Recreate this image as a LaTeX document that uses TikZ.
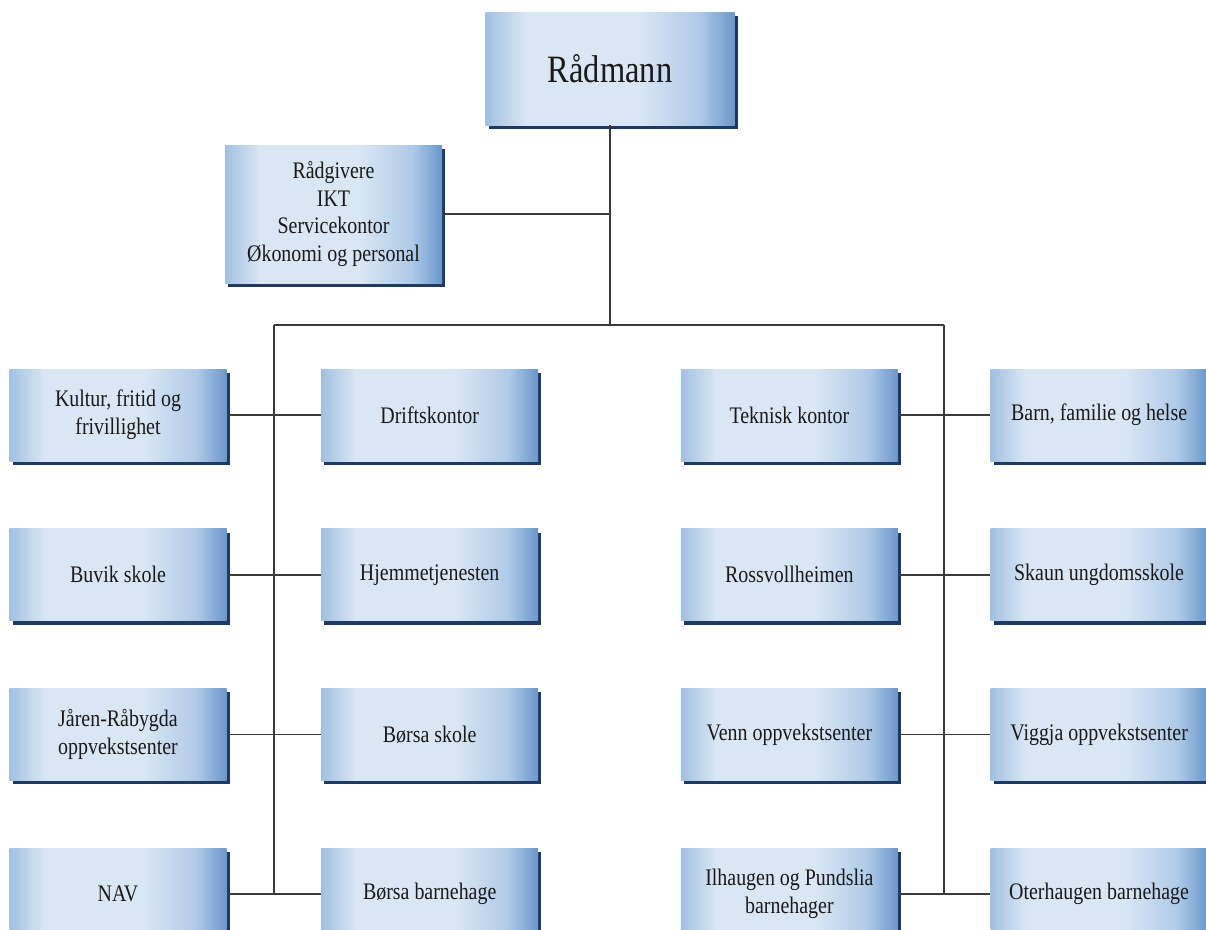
\documentclass[tikz,border=0pt]{standalone}
\usepackage{fontspec}
\setmainfont{Liberation Serif}[FakeStretch=0.84]
\usetikzlibrary{calc, positioning, shadows}
\definecolor{boxlight}{HTML}{D9E6F4}
\definecolor{boxedge}{HTML}{A2C0E2}
\definecolor{boxmid}{HTML}{AFCAE8}
\definecolor{boxdark}{HTML}{6A97CA}
\definecolor{boxshadow}{HTML}{1E3A60}
\definecolor{boxtext}{HTML}{1A1A1A}
\definecolor{linegray}{HTML}{3A3A3A}
\pgfdeclarehorizontalshading{boxshade}{100bp}{color(0bp)=(boxedge); color(25bp)=(boxedge);
    color(33bp)=(boxlight); color(56bp)=(boxlight); color(68bp)=(boxmid); color(75bp)=(boxdark);
    color(100bp)=(boxdark)}

\begin{document}
\begin{tikzpicture}[
    unit/.style={rectangle, minimum width=4.34cm, minimum height=1.84cm, align=center, inner sep=2pt,
        shading=boxshade, shading angle=0,
        text=boxtext, font=\fontsize{13.5}{15.8}\selectfont,
        drop shadow={shadow xshift=0.06cm, shadow yshift=-0.08cm, fill=boxshadow, opacity=1}},
    link/.style={draw=linegray, line width=0.9pt}
]
    \useasboundingbox (0,0) rectangle (24.12,-18.58);

    \node[unit, minimum width=4.98cm, minimum height=2.26cm, font=\fontsize{22}{26}\selectfont] (top) at (12.2,-1.37) {Rådmann};
    \node[unit, minimum height=2.76cm] (staff) at (6.67,-4.28) {Rådgivere\\IKT\\Servicekontor\\Økonomi og personal};

    \node[unit] (11) at (2.36,-8.30) {Kultur, fritid og\\frivillighet};
    \node[unit] (12) [right=1.88cm of 11] {Driftskontor};
    \node[unit] (13) [right=2.84cm of 12] {Teknisk kontor};
    \node[unit] (14) [right=1.84cm of 13] {Barn, familie og helse};

    \node[unit] (21) [below=1.34cm of 11] {Buvik skole};
    \node[unit] (22) [below=1.34cm of 12] {Hjemmetjenesten};
    \node[unit] (23) [below=1.34cm of 13] {Rossvollheimen};
    \node[unit] (24) [below=1.34cm of 14] {Skaun ungdomsskole};

    \node[unit] (31) [below=1.34cm of 21] {Jåren-Råbygda\\oppvekstsenter};
    \node[unit] (32) [below=1.34cm of 22] {Børsa skole};
    \node[unit] (33) [below=1.34cm of 23] {Venn oppvekstsenter};
    \node[unit] (34) [below=1.34cm of 24] {Viggja oppvekstsenter};

    \node[unit] (41) [below=1.34cm of 31] {NAV};
    \node[unit] (42) [below=1.34cm of 32] {Børsa barnehage};
    \node[unit] (43) [below=1.34cm of 33] {Ilhaugen og Pundslia\\barnehager};
    \node[unit] (44) [below=1.34cm of 34] {Oterhaugen barnehage};

    \coordinate (bus) at (0,-6.5);
    \coordinate (l1) at ($(11.east)!0.5!(12.west)$);
    \coordinate (l4) at ($(41.east)!0.5!(42.west)$);
    \coordinate (r1) at ($(13.east)!0.5!(14.west)$);
    \coordinate (r4) at ($(43.east)!0.5!(44.west)$);

    \draw[link] (top.south) -- (top.south |- bus);
    \draw[link] (staff.east) -- (top.south |- staff.east);
    \draw[link] (l1 |- bus) -- (r1 |- bus);
    \draw[link] (l1 |- bus) -- (l4);
    \draw[link] (r1 |- bus) -- (r4);
    \foreach \r in {1,...,4} {
        \draw[link] (\r1.east) -- (\r2.west);
        \draw[link] (\r3.east) -- (\r4.west);
    }
\end{tikzpicture}
\end{document}
